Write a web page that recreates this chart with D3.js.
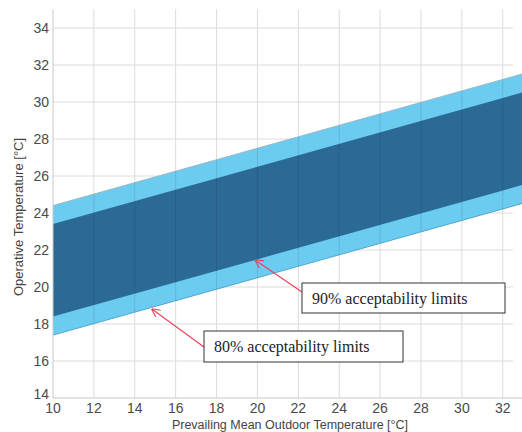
<!DOCTYPE html>
<html>
<head>
<meta charset="utf-8">
<script src="https://cdn.jsdelivr.net/npm/d3@7"></script>
<style>
  html, body { margin: 0; padding: 0; background: #fff; }
  svg { display: block; }
</style>
</head>
<body>
<svg id="chart" width="522" height="432"></svg>
<script>
// Prevailing mean outdoor temperature at the two ends of the comfort bands (°C)
const outdoorTemps = [10, 33];
// 80% acceptability limits (operative temperature, °C)
const upper80 = [24.4, 31.53];
const lower80 = [17.4, 24.53];
// 90% acceptability limits (operative temperature, °C)
const upper90 = [23.4, 30.53];
const lower90 = [18.4, 25.53];
// Axis ticks
const xTicks = [10, 12, 14, 16, 18, 20, 22, 24, 26, 28, 30, 32];
const yTicks = [14, 16, 18, 20, 22, 24, 26, 28, 30, 32, 34];
// Annotations: box (px), arrow start offset in box, arrow target in data units
const notes = [
  { text: "90% acceptability limits", box: [302, 283, 203, 30], startY: 9, target: [19.9, 21.45] },
  { text: "80% acceptability limits", box: [204, 331, 199, 31], startY: 16, target: [14.85, 18.8] }
];

const svg = d3.select("#chart");
const x = d3.scaleLinear().domain([10, 32.5]).range([53, 513]);
const y = d3.scaleLinear().domain([14, 35]).range([398, 9.5]);

const font = "Arial, 'Liberation Sans', sans-serif";

// Grid
const grid = svg.append("g");
grid.selectAll("line.v").data(xTicks.slice(1)).join("line")
  .attr("x1", d => x(d)).attr("x2", d => x(d))
  .attr("y1", y(35)).attr("y2", y(14))
  .attr("stroke", "#dcdcdc").attr("stroke-width", 1);
grid.selectAll("line.h").data(yTicks.slice(1)).join("line")
  .attr("x1", x(10)).attr("x2", x(32.5))
  .attr("y1", d => y(d)).attr("y2", d => y(d))
  .attr("stroke", "#dcdcdc").attr("stroke-width", 1);

// Comfort bands
const band = (hi, lo) => d3.area()
  .x((d, i) => x(outdoorTemps[i]))
  .y0((d, i) => y(lo[i]))
  .y1((d, i) => y(hi[i]))(outdoorTemps);

svg.append("clipPath").attr("id", "bandClip")
  .append("path").attr("d", band(upper80, lower80));

svg.append("path").attr("d", band(upper80, lower80)).attr("fill", "#6ccbf0");
svg.append("path").attr("d", band(upper90, lower90)).attr("fill", "#2c6a96");
svg.append("path")
  .attr("d", d3.line().x((d, i) => x(outdoorTemps[i])).y((d, i) => y(upper80[i]))(outdoorTemps))
  .attr("stroke", "#9ab8c4").attr("stroke-width", 1).attr("fill", "none");
svg.append("path")
  .attr("d", d3.line().x((d, i) => x(outdoorTemps[i])).y((d, i) => y(lower80[i]))(outdoorTemps))
  .attr("stroke", "#4fa9d0").attr("stroke-width", 1).attr("fill", "none");

// Faint grid showing through the bands
const gridOver = svg.append("g").attr("opacity", 0.1).attr("clip-path", "url(#bandClip)");
gridOver.selectAll("line").data(xTicks.slice(1)).join("line")
  .attr("x1", d => x(d)).attr("x2", d => x(d))
  .attr("y1", y(35)).attr("y2", y(14))
  .attr("stroke", "#000");

// Axes lines
svg.append("line").attr("x1", x(10)).attr("x2", x(10)).attr("y1", y(35)).attr("y2", y(14))
  .attr("stroke", "#c8c8c8");
svg.append("line").attr("x1", x(10)).attr("x2", 522).attr("y1", y(14)).attr("y2", y(14))
  .attr("stroke", "#c8c8c8");

// Tick labels
svg.append("g").selectAll("text").data(xTicks).join("text")
  .attr("x", d => x(d)).attr("y", 413)
  .attr("text-anchor", "middle")
  .attr("font-family", font).attr("font-size", 14).attr("fill", "#4a4a4a")
  .text(d => d);
svg.append("g").selectAll("text").data(yTicks).join("text")
  .attr("x", 49).attr("y", d => y(d) + (d === 14 ? 1 : 5))
  .attr("text-anchor", "end")
  .attr("font-family", font).attr("font-size", 14).attr("fill", "#4a4a4a")
  .text(d => d);

// Axis titles
svg.append("text")
  .attr("x", 290).attr("y", 429)
  .attr("text-anchor", "middle")
  .attr("font-family", font).attr("font-size", 12.5).attr("fill", "#444")
  .text("Prevailing Mean Outdoor Temperature [°C]");
svg.append("text")
  .attr("transform", "translate(23,217) rotate(-90)")
  .attr("text-anchor", "middle")
  .attr("font-family", font).attr("font-size", 13).attr("fill", "#444")
  .text("Operative Temperature [°C]");

// Annotation arrows and boxes
const defs = svg.append("defs");
defs.append("marker").attr("id", "head")
  .attr("viewBox", "0 0 10 10").attr("refX", 9).attr("refY", 5)
  .attr("markerWidth", 9).attr("markerHeight", 9).attr("orient", "auto")
  .attr("markerUnits", "userSpaceOnUse")
  .append("path").attr("d", "M0,0 L10,5 L0,10").attr("fill", "none")
  .attr("stroke", "#e8455a").attr("stroke-width", 1.3);

notes.forEach(n => {
  const [bx, by, bw, bh] = n.box;
  svg.append("line")
    .attr("x1", bx).attr("y1", by + n.startY)
    .attr("x2", x(n.target[0])).attr("y2", y(n.target[1]))
    .attr("stroke", "#e8455a").attr("stroke-width", 1.2)
    .attr("marker-end", "url(#head)");
  svg.append("rect").attr("x", bx).attr("y", by).attr("width", bw).attr("height", bh)
    .attr("fill", "#fff").attr("stroke", "#333").attr("stroke-width", 1);
  svg.append("text").attr("x", bx + 10).attr("y", by + bh / 2 + 5.5)
    .attr("font-family", "'Liberation Serif', 'Times New Roman', serif")
    .attr("font-size", 16).attr("fill", "#222")
    .text(n.text);
});
</script>
</body>
</html>
